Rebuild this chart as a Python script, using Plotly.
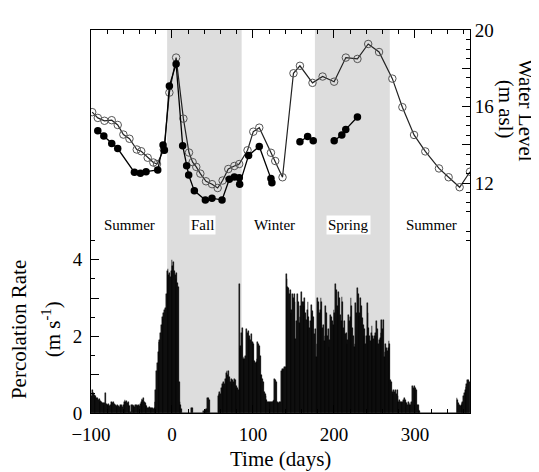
import plotly.graph_objects as go

# ---------------- data ----------------
# Percolation rate (m s^-1), daily, starting at day -100
perc_start_day = -100
perc_rate = [
    0.50, 0.45, 0.60, 0.52, 0.48, 0.42, 0.45, 0.38, 0.40, 0.35,   # -100..-91
    0.37, 0.30, 0.32, 0.28, 0.25, 0.27, 0.22, 0.26, 0.52, 0.24,   # -90..-81
    0.22, 0.20, 0.24, 0.18, 0.22, 0.30, 0.28, 0.26, 0.30, 0.24,   # -80..-71
    0.20, 0.18, 0.16, 0.20, 0.18, 0.15, 0.20, 0.18, 0.22, 0.16,   # -70..-61
    0.20, 0.30, 0.33, 0.28, 0.32, 0.26, 0.30, 0.22, 0.18, 0.02,   # -60..-51
    0.20, 0.22, 0.18, 0.20, 0.16, 0.22, 0.20, 0.18, 0.20, 0.22,   # -50..-41
    0.18, 0.24, 0.30, 0.36, 0.34, 0.40, 0.30, 0.26, 0.22, 0.18,   # -40..-31
    0.14, 0.12, 0.15, 0.12, 0.10, 0.14, 0.12, 0.10, 0.12, 0.30,   # -30..-21
    0.60, 1.10, 1.30, 1.60, 1.85, 1.90, 2.10, 2.30, 2.50, 2.45,   # -20..-11
    2.60, 2.70, 2.75, 3.10, 3.70, 3.75, 3.60, 3.65, 3.55, 3.70,   # -10..-1
    4.00, 3.85, 3.95, 3.70, 3.60, 3.50, 3.65, 3.40, 3.30, 0.80,   # 0..9
    0.30, 0.20, 0.10, 0.00, 0.00, 0.00, 0.00, 0.00, 0.00, 0.00,   # 10..19
    0.00, 0.00, 0.00, 0.00, 0.14, 0.12, 0.00, 0.00, 0.00, 0.00,   # 20..29
    0.00, 0.00, 0.00, 0.00, 0.00, 0.00, 0.00, 0.00, 0.00, 0.05,   # 30..39
    0.00, 0.08, 0.10, 0.10, 0.39, 0.39, 0.35, 0.00, 0.00, 0.00,   # 40..49
    0.00, 0.00, 0.00, 0.00, 0.00, 0.00, 0.00, 0.45, 0.50, 0.55,   # 50..59
    0.50, 0.65, 0.75, 0.70, 0.80, 0.75, 0.90, 1.05, 1.10, 1.00,   # 60..69
    1.10, 0.95, 0.80, 0.90, 0.75, 0.85, 0.80, 0.90, 0.85, 0.65,   # 70..79
    0.70, 0.65, 0.60, 3.38, 1.70, 1.75, 2.10, 2.23, 1.40, 1.45,   # 80..89
    1.40, 1.50, 2.19, 2.10, 2.15, 1.95, 2.00, 1.90, 2.05, 1.85,   # 90..99
    1.85, 1.80, 1.35, 1.30, 1.33, 1.40, 1.85, 1.80, 1.75, 1.50,   # 100..109
    1.00, 0.99, 0.90, 0.80, 0.55, 0.50, 0.45, 0.35, 0.30, 0.28,   # 110..119
    0.30, 0.25, 0.30, 0.28, 0.30, 0.32, 0.35, 0.90, 0.86, 0.80,   # 120..129
    0.30, 0.26, 0.25, 0.30, 0.28, 1.10, 1.15, 1.12, 1.16, 1.20,   # 130..139
    1.20, 3.64, 3.50, 3.30, 3.26, 3.10, 3.20, 2.60, 2.70, 3.10,   # 140..149
    3.00, 3.10, 2.90, 1.93, 2.40, 3.10, 2.90, 2.36, 2.50, 2.80,   # 150..159
    3.17, 2.90, 2.90, 2.80, 3.00, 2.60, 2.44, 2.70, 2.90, 2.50,   # 160..169
    2.23, 2.40, 2.83, 2.60, 2.66, 2.50, 2.06, 2.20, 1.46, 1.80,   # 170..179
    3.00, 2.90, 2.60, 2.70, 3.00, 2.90, 2.23, 2.30, 1.89, 2.00,   # 180..189
    2.79, 2.60, 2.00, 2.20, 1.72, 1.90, 2.57, 2.50, 2.40, 2.30,   # 190..199
    2.70, 2.60, 3.38, 3.20, 2.79, 2.70, 3.17, 3.00, 2.57, 2.40,   # 200..209
    3.04, 2.90, 2.23, 2.40, 2.06, 2.10, 1.80, 1.90, 2.57, 2.40,   # 210..219
    2.50, 3.00, 2.80, 2.23, 2.00, 1.72, 1.80, 2.87, 2.60, 3.26,   # 220..229
    3.10, 2.53, 2.60, 3.00, 2.80, 2.49, 2.30, 2.02, 2.20, 1.80,   # 230..239
    2.00, 2.87, 2.60, 2.23, 2.00, 1.89, 2.10, 2.27, 2.00, 1.93,   # 240..249
    2.00, 2.10, 2.00, 2.40, 2.20, 1.80, 1.90, 1.97, 2.10, 2.44,   # 250..259
    2.20, 2.44, 1.46, 1.60, 1.80, 1.70, 1.63, 1.70, 1.89, 1.80,   # 260..269
    0.86, 0.80, 0.56, 0.50, 0.60, 0.55, 0.60, 0.50, 0.60, 0.45,   # 270..279
    0.30, 0.35, 0.28, 0.30, 0.25, 0.30, 0.35, 0.39, 0.35, 0.30,   # 280..289
    0.25, 0.22, 0.28, 0.20, 0.25, 0.22, 0.30, 0.70, 0.65, 0.70,   # 290..299
    0.60, 0.65, 0.60, 0.22, 0.20, 0.09, 0.05, 0.00, 0.00, 0.00,   # 300..309
    0.00, 0.00, 0.00, 0.00, 0.00, 0.00, 0.00, 0.00, 0.00, 0.00,   # 310..319
    0.00, 0.00, 0.00, 0.00, 0.00, 0.00, 0.00, 0.00, 0.00, 0.00,   # 320..329
    0.00, 0.00, 0.00, 0.00, 0.00, 0.00, 0.00, 0.00, 0.00, 0.00,   # 330..339
    0.00, 0.00, 0.00, 0.00, 0.00, 0.00, 0.00, 0.00, 0.00, 0.00,   # 340..349
    0.00, 0.00, 0.39, 0.35, 0.26, 0.22, 0.18, 0.20, 0.26, 0.30,   # 350..359
    0.45, 0.52, 0.60, 0.69, 0.75, 0.86, 0.86, 0.80,               # 360..367
]
perc_days = [perc_start_day + i for i in range(len(perc_rate))]

# Water level, well with open circles (m asl)
open_days = [-98.5, -91.6, -83.4, -74.4, -67, -60, -52.5, -43.5, -38, -30, -23, -18.5,
             -10, -3.2, 5.1, 14.1, 21, 25.5, 30, 35, 42, 49.5, 56.4, 62.5, 69.5, 77, 83,
             93.3, 100.4, 107.8, 122.2, 127.5, 136.5, 150, 158, 173.5, 186, 200.2,
             214.7, 229, 242.3, 255.7, 272.1, 284.5, 298.9, 312.8, 329.7, 341.6, 355.2, 368]
open_level = [15.71, 15.41, 15.26, 15.29, 15.04, 14.54, 14.32, 13.76, 13.67, 13.33, 13.08, 13.0,
              13.75, 16.73, 18.56, 15.37, 13.6, 13.1, 12.85, 12.5, 12.1, 11.95, 11.75, 12.14, 12.74, 12.9, 13.0,
              13.72, 14.69, 14.9, 13.59, 13.16, 12.31, 17.74, 18.13, 17.24, 17.57, 17.3,
              18.56, 18.49, 19.27, 18.85, 17.46, 15.97, 14.52, 13.66, 12.77, 12.31, 11.79, 12.6]

# Water level, well with filled circles (None = no measurement, line break)
filled_days = [-91.6, -84.2, -74.4, -67, -46.4, -39, -32, -17.6, -11, -9.4, -3.2, 5.1,
               13.2, 18.1, 20.6, 27.6, 41.2, 49.4, 61.8, 70.8, 77, 83.1, 83.6, 94.6,
               107.8, 122.2, 123.4, 140, 158, 167.5, 174.4, 187, 200.3, 209.7, 214.6, 229]
filled_level = [14.74, 14.47, 14.07, 13.81, 12.57, 12.52, 12.6, 12.69, 14.0, 13.72, 17.08, 18.23,
                13.96, 12.91, 12.43, 11.6, 11.12, 11.22, 11.12, 12.21, 12.33, 12.28, 11.95, 13.45,
                13.92, 12.24, 12.02, None, 14.16, 14.44, 14.22, None, 14.22, 14.52, 14.81, 15.46]

# Seasons
season_names = ["Summer", "Fall", "Winter", "Spring", "Summer"]
season_label_days = [-52, 38, 127, 218.5, 320]
shaded_seasons = [(-6, 86), (176.5, 269)]

x_tick_vals = [-100, 0, 100, 200, 300]
perc_tick_vals = [0, 1, 2, 3, 4]
perc_tick_text = ["0", "", "2", "", "4"]
level_tick_vals = [12, 14, 16, 18, 20]
level_tick_text = ["12", "", "16", "", "20"]

# ---------------- figure ----------------
FONT = "Liberation Serif, Times New Roman, serif"
fig = go.Figure()

fig.add_trace(go.Bar(
    x=perc_days, y=perc_rate, width=1.0,
    marker=dict(color="black", line=dict(width=0.4, color="black")),
    yaxis="y", showlegend=False,
))
fig.add_trace(go.Scatter(
    x=open_days, y=open_level, mode="lines+markers", yaxis="y2",
    line=dict(color="#222", width=1.2),
    marker=dict(symbol="circle-open", size=7.5, color="#555", line=dict(width=1)),
    showlegend=False,
))
fig.add_trace(go.Scatter(
    x=filled_days, y=filled_level, mode="lines+markers", yaxis="y2",
    line=dict(color="black", width=1.3), connectgaps=False,
    marker=dict(symbol="circle", size=7.5, color="black"),
    showlegend=False,
))
# invisible trace so that the top (mirror) axis is drawn
fig.add_trace(go.Scatter(x=[None], y=[None], xaxis="x2", yaxis="y", showlegend=False,
                         hoverinfo="skip"))

for x0, x1 in shaded_seasons:
    fig.add_shape(type="rect", xref="x", yref="paper", x0=x0, x1=x1, y0=0, y1=1,
                  fillcolor="#dddddd", line=dict(width=0), layer="below")

for name, d in zip(season_names, season_label_days):
    fig.add_annotation(x=d, y=0.49, xref="x", yref="paper", text=name, showarrow=False,
                       xanchor="center", yanchor="middle", bgcolor="white", borderpad=1,
                       font=dict(family=FONT, size=15, color="black"))

# axis titles
title_font = dict(family=FONT, size=21, color="black")
fig.add_annotation(x=0.499, y=-0.12, xref="paper", yref="paper", text="Time (days)",
                   xanchor="center", yanchor="middle", showarrow=False, font=title_font)
fig.add_annotation(x=-0.19, y=0.219, xref="paper", yref="paper", text="Percolation Rate",
                   xanchor="center", yanchor="middle", textangle=-90, showarrow=False, font=title_font)
fig.add_annotation(x=-0.105, y=0.219, xref="paper", yref="paper", text="(m s<sup>-1</sup>)",
                   xanchor="center", yanchor="middle", textangle=-90, showarrow=False, font=title_font)
fig.add_annotation(x=1.148, y=0.791, xref="paper", yref="paper", text="Water Level",
                   xanchor="center", yanchor="middle", textangle=90, showarrow=False, font=title_font)
fig.add_annotation(x=1.094, y=0.793, xref="paper", yref="paper", text="(m asl)",
                   xanchor="center", yanchor="middle", textangle=90, showarrow=False, font=title_font)

tickfont = dict(family=FONT, size=19, color="black")
half_m = [v / 2 for v in range(18, 41) if (v / 2) % 2 != 0]
half_p = [v / 2 for v in range(1, 11) if (v / 2) % 1 != 0]

# page body has an 8px margin, so the figure is drawn 8px in from the corner
fig.update_layout(
    width=531, height=464,
    margin=dict(l=83, r=69, t=13, b=59),
    paper_bgcolor="white", plot_bgcolor="white",
    bargap=0,
    xaxis=dict(range=[-100, 368], tickvals=x_tick_vals, ticks="inside", ticklen=8,
               tickcolor="black", tickwidth=1, showline=True, linecolor="black", linewidth=1,
               showgrid=False, zeroline=False, tickfont=tickfont,
               ticklabelstandoff=4,
               minor=dict(dtick=20, tick0=0, ticks="inside", ticklen=4, tickcolor="black")),
    xaxis2=dict(range=[-100, 368], overlaying="x", side="top", anchor="y",
                tickvals=x_tick_vals, ticks="inside", ticklen=8, tickcolor="black",
                showline=True, linecolor="black", linewidth=1, showticklabels=False,
                showgrid=False, zeroline=False,
                minor=dict(dtick=20, tick0=0, ticks="inside", ticklen=4, tickcolor="black")),
    yaxis=dict(range=[0, 10], tickvals=perc_tick_vals, ticktext=perc_tick_text,
               ticks="inside", ticklen=8, tickcolor="black", showline=True, linecolor="black",
               showgrid=False, zeroline=False, tickfont=tickfont, ticklabelstandoff=4,
               minor=dict(tickvals=half_p, ticks="inside", ticklen=4, tickcolor="black")),
    yaxis2=dict(range=[0, 20], overlaying="y", side="right", anchor="x",
                tickvals=level_tick_vals, ticktext=level_tick_text,
                ticks="inside", ticklen=8, tickcolor="black", showline=True, linecolor="black",
                showgrid=False, zeroline=False, tickfont=tickfont,
                minor=dict(tickvals=half_m, ticks="inside", ticklen=4, tickcolor="black")),
    yaxis3=dict(range=[0, 20], overlaying="y", side="left", anchor="x",
                tickvals=[10, 12, 14, 16, 18], showticklabels=False,
                ticks="inside", ticklen=8, tickcolor="black", showline=False,
                showgrid=False, zeroline=False,
                minor=dict(tickvals=half_m, ticks="inside", ticklen=4, tickcolor="black")),
    yaxis4=dict(range=[0, 10], overlaying="y", side="right", anchor="x",
                tickvals=[1, 2, 3, 4], showticklabels=False,
                ticks="inside", ticklen=8, tickcolor="black", showline=False,
                showgrid=False, zeroline=False,
                minor=dict(tickvals=half_p, ticks="inside", ticklen=4, tickcolor="black")),
)

fig.write_html("out.html")
